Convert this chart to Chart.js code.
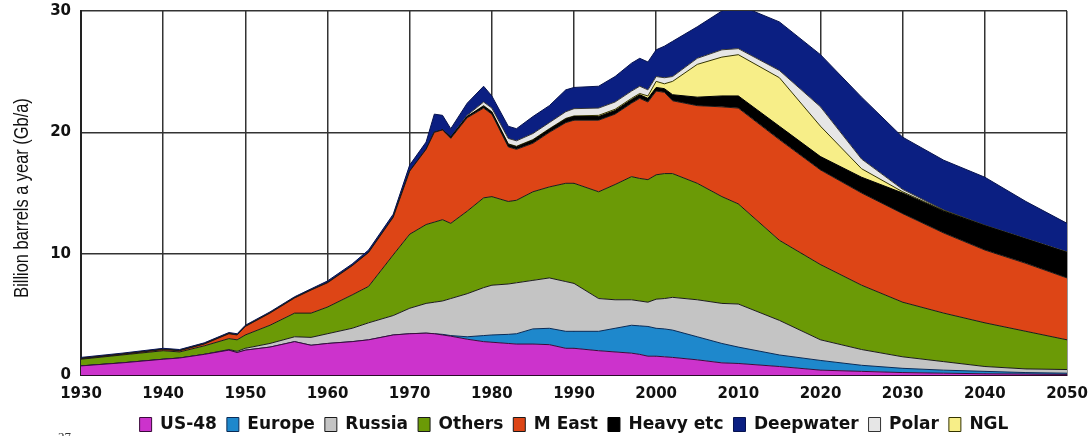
<!DOCTYPE html>
<html>

<head>
  <meta charset="utf-8" />
  <style>
    html, body { margin: 0; padding: 0; background: #ffffff; }
  </style>
</head>

<script src="https://cdn.jsdelivr.net/npm/chart.js"></script>

<body>
  <canvas id="oilChart" width="1091" height="436"></canvas>

  <script>
    // years (irregular spacing where the curve wiggles)
    var years = [1930, 1935, 1940, 1942, 1945, 1948, 1949, 1950, 1953, 1956, 1958, 1960, 1963, 1965, 1968,
      1970, 1972, 1973, 1974, 1975, 1977, 1979, 1980, 1982, 1983, 1985, 1987, 1989, 1990, 1993, 1995,
      1997, 1998, 1999, 2000, 2001, 2002, 2005, 2008, 2010, 2015, 2020, 2025, 2030, 2035, 2040, 2045, 2050];

    // Gb/a per region (stacked bottom to top)
    var us48 = [0.75, 1.0, 1.3, 1.4, 1.7, 2.05, 1.85, 2.05, 2.3, 2.75, 2.45, 2.6, 2.75, 2.9, 3.3,
      3.4, 3.45, 3.4, 3.3, 3.2, 2.95, 2.75, 2.7, 2.6, 2.55, 2.55, 2.5, 2.2, 2.2, 2.0, 1.9,
      1.8, 1.7, 1.55, 1.55, 1.5, 1.45, 1.25, 1.0, 0.95, 0.7, 0.4, 0.3, 0.2, 0.15, 0.1, 0.08, 0.05];
    var europe = [0, 0, 0, 0, 0, 0, 0, 0, 0, 0, 0, 0, 0, 0, 0,
      0, 0, 0, 0.05, 0.05, 0.2, 0.5, 0.6, 0.75, 0.85, 1.25, 1.35, 1.4, 1.4, 1.6, 1.95,
      2.3, 2.35, 2.45, 2.3, 2.3, 2.25, 1.9, 1.6, 1.35, 0.95, 0.8, 0.5, 0.35, 0.25, 0.2, 0.12, 0.1];
    var russia = [0, 0, 0, 0, 0, 0.05, 0.1, 0.15, 0.3, 0.4, 0.65, 0.8, 1.1, 1.4, 1.6,
      2.1, 2.45, 2.6, 2.75, 3.05, 3.55, 3.95, 4.1, 4.15, 4.2, 4.0, 4.15, 4.1, 3.95, 2.7, 2.35,
      2.1, 2.05, 2.0, 2.4, 2.5, 2.7, 3.05, 3.3, 3.55, 2.85, 1.7, 1.3, 0.95, 0.7, 0.4, 0.3, 0.3];
    var others = [0.55, 0.65, 0.7, 0.5, 0.7, 0.9, 0.95, 1.1, 1.5, 1.95, 2.0, 2.2, 2.75, 3.0, 5.0,
      6.1, 6.5, 6.6, 6.7, 6.2, 6.8, 7.4, 7.3, 6.8, 6.8, 7.3, 7.5, 8.1, 8.25, 8.8, 9.5,
      10.15, 10.1, 10.1, 10.25, 10.3, 10.2, 9.6, 8.8, 8.25, 6.6, 6.2, 5.3, 4.5, 4.0, 3.6, 3.1, 2.45];
    var mEast = [0.05, 0.05, 0.1, 0.1, 0.15, 0.4, 0.4, 0.7, 1.0, 1.25, 1.9, 2.0, 2.4, 2.8, 3.1,
      5.2, 6.2, 7.4, 7.4, 7.0, 7.7, 7.4, 6.8, 4.5, 4.2, 4.0, 4.5, 5.0, 5.2, 5.9, 5.8,
      6.05, 6.6, 6.4, 6.9, 6.7, 6.0, 6.4, 7.4, 7.9, 8.3, 7.8, 7.6, 7.3, 6.6, 6.0, 5.6, 5.1];
    var heavy = [0, 0, 0, 0, 0, 0, 0, 0, 0, 0, 0, 0, 0, 0, 0,
      0, 0, 0, 0, 0.1, 0.1, 0.15, 0.15, 0.2, 0.2, 0.25, 0.25, 0.3, 0.3, 0.3, 0.3,
      0.3, 0.3, 0.3, 0.3, 0.3, 0.5, 0.7, 0.9, 1.0, 1.1, 1.1, 1.3, 1.7, 1.8, 2.0, 2.0, 2.1];
    var ngl = [0, 0, 0, 0, 0, 0, 0, 0, 0, 0, 0, 0, 0, 0, 0,
      0, 0, 0, 0, 0, 0, 0.05, 0.05, 0.05, 0.05, 0.05, 0.05, 0.05, 0.05, 0.1, 0.1,
      0.1, 0.1, 0.2, 0.5, 0.4, 1.1, 2.7, 3.2, 3.4, 4.0, 2.5, 0.7, 0.1, 0.05, 0, 0, 0];
    var polar = [0, 0, 0, 0, 0, 0, 0, 0, 0, 0, 0, 0, 0, 0, 0,
      0, 0, 0, 0, 0, 0.1, 0.3, 0.3, 0.45, 0.45, 0.5, 0.5, 0.55, 0.6, 0.6, 0.6,
      0.6, 0.6, 0.5, 0.4, 0.5, 0.4, 0.5, 0.6, 0.5, 0.6, 1.6, 0.8, 0.2, 0.05, 0.05, 0.05, 0.05];
    var deepwater = [0.1, 0.1, 0.1, 0.1, 0.1, 0.1, 0.1, 0.1, 0.1, 0.1, 0.1, 0.15, 0.15, 0.2, 0.25,
      0.5, 0.6, 1.5, 1.2, 0.7, 1.0, 1.3, 1.0, 1.0, 1.0, 1.4, 1.4, 1.8, 1.75, 1.8, 2.1,
      2.3, 2.3, 2.3, 2.2, 2.6, 2.9, 2.6, 3.2, 3.6, 4.0, 4.3, 5.1, 4.3, 4.1, 3.95, 3.05, 2.35];

    var xTicks = [1930, 1940, 1950, 1960, 1970, 1980, 1990, 2000, 2010, 2020, 2030, 2040, 2050];
    var yTicks = [0, 10, 20, 30];
    var legendOrder = ['US-48', 'Europe', 'Russia', 'Others', 'M East', 'Heavy etc', 'Deepwater', 'Polar', 'NGL'];
    var yTitle = 'Billion barrels a year (Gb/a)';

    function pts(vals) {
      return years.map(function (yr, i) { return { x: yr, y: vals[i] }; });
    }

    function layer(label, vals, fillColor, lineColor, first) {
      return {
        label: label,
        data: pts(vals),
        backgroundColor: fillColor,
        borderColor: lineColor,
        borderWidth: 1,
        pointRadius: 0,
        tension: 0,
        fill: first ? 'origin' : '-1'
      };
    }

    // narrow rotated axis title + the page number peeking in at bottom left
    var extraText = {
      id: 'extraText',
      afterDraw: function (chart) {
        var c = chart.ctx;
        var area = chart.chartArea;
        c.save();
        c.translate(22, (area.top + area.bottom) / 2 + 5);
        c.rotate(-Math.PI / 2);
        c.scale(0.82, 1);
        c.font = '20px "Liberation Sans", Arial, sans-serif';
        c.fillStyle = '#111';
        c.textAlign = 'center';
        c.textBaseline = 'middle';
        c.fillText(yTitle, 0, 0);
        c.restore();

        c.save();
        c.font = '13px "Liberation Serif", serif';
        c.fillStyle = '#333';
        c.textAlign = 'left';
        c.textBaseline = 'middle';
        c.fillText('27', 58, 438);
        c.restore();
      }
    };

    var ctx = document.getElementById('oilChart');
    new Chart(ctx, {
      type: 'line',
      data: {
        datasets: [
          layer('US-48', us48, '#cc33cc', '#3a0a3a', true),
          layer('Europe', europe, '#1e88cc', '#0a2a55'),
          layer('Russia', russia, '#c4c4c4', '#1a1a1a'),
          layer('Others', others, '#6b9a06', '#1a1a1a'),
          layer('M East', mEast, '#dd4516', '#1a1a1a'),
          layer('Heavy etc', heavy, '#000000', '#000000'),
          layer('NGL', ngl, '#f7ee88', '#333300'),
          layer('Polar', polar, '#e6e6e6', '#333333'),
          layer('Deepwater', deepwater, '#0b1f82', '#06124f')
        ]
      },
      options: {
        responsive: false,
        animation: false,
        layout: { autoPadding: false, padding: { left: 0, right: 24, top: 11, bottom: -7 } },
        plugins: {
          tooltip: { enabled: false },
          legend: {
            position: 'bottom',
            fullSize: false,
            labels: {
              color: '#111',
              font: { family: 'DejaVu Sans', size: 17, weight: 'bold' },
              boxWidth: 12,
              boxHeight: 14,
              padding: 10,
              sort: function (a, b) {
                return legendOrder.indexOf(a.text) - legendOrder.indexOf(b.text);
              }
            }
          }
        },
        scales: {
          x: {
            type: 'linear',
            min: 1930,
            max: 2050,
            z: 1,
            afterFit: function (scale) {
              scale.height = 31;
              scale.paddingLeft = 0;
              scale.paddingRight = 0;
            },
            afterBuildTicks: function (scale) {
              scale.ticks = xTicks.map(function (v) { return { value: v }; });
            },
            grid: { color: '#333', lineWidth: 1.5, drawTicks: false },
            border: { display: true, color: '#2a0a2a', width: 2 },
            ticks: {
              padding: 10,
              maxRotation: 0,
              color: '#111',
              font: { family: 'DejaVu Sans', size: 15, weight: 'bold' },
              callback: function (v) { return String(v); }
            }
          },
          y: {
            stacked: true,
            min: 0,
            max: 30,
            z: 1,
            afterFit: function (scale) {
              scale.width = 81;
              scale.paddingTop = 0;
              scale.paddingBottom = 0;
            },
            afterBuildTicks: function (scale) {
              scale.ticks = yTicks.map(function (v) { return { value: v }; });
            },
            grid: { color: '#333', lineWidth: 1.5, drawTicks: false },
            border: { display: true, color: '#222', width: 2 },
            ticks: {
              padding: 10,
              color: '#111',
              font: { family: 'DejaVu Sans', size: 15, weight: 'bold' },
              callback: function (v) { return String(v); }
            }
          }
        }
      },
      plugins: [extraText]
    });
  </script>

</body>

</html>
